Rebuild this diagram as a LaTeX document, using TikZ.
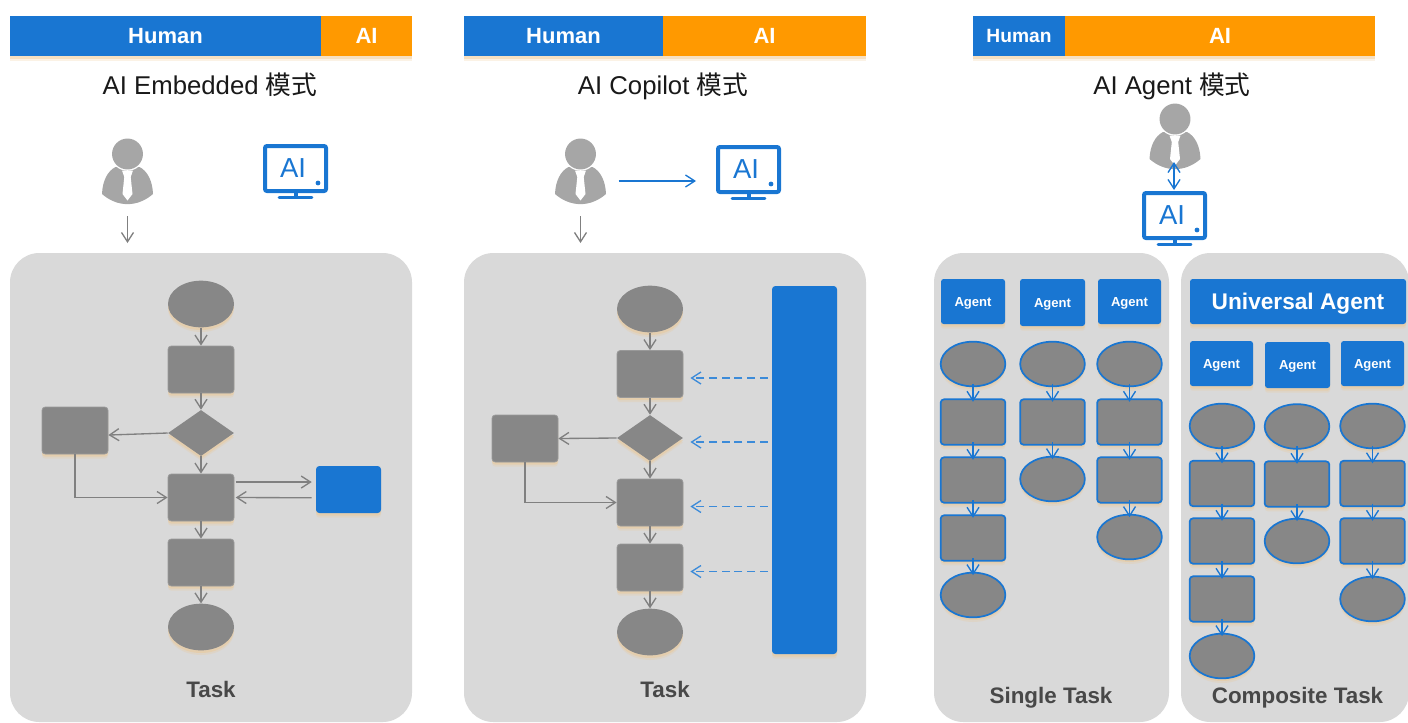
\documentclass[tikz,border=0pt]{standalone}
\usepackage{fontspec}
\setmainfont{Liberation Sans}
\newfontfamily\cjk{Noto Sans CJK SC}
\usetikzlibrary{arrows.meta,shapes.geometric,shadows,calc}
\definecolor{aiblue}{HTML}{1976D2}
\definecolor{aiorange}{HTML}{FF9900}
\definecolor{panelgray}{HTML}{D9D9D9}
\definecolor{flowgray}{HTML}{878787}
\definecolor{linegray}{HTML}{808080}
\definecolor{icongray}{HTML}{A6A6A6}
\definecolor{labelgray}{HTML}{484848}
\definecolor{glow}{HTML}{EFC58A}
\newcommand{\fs}[1]{\fontsize{#1}{#1}\selectfont}
\tikzset{
  x=0.75pt,y=-0.75pt,
  glowshadow/.style={
    drop shadow={shadow xshift=0pt,shadow yshift=-3.5pt,fill=glow,opacity=0.22},
    drop shadow={shadow xshift=0pt,shadow yshift=-2pt,fill=glow,opacity=0.4}},
  barblue/.style={fill=aiblue,text=white,font=\bfseries\fs{16.5},minimum height=30pt,inner sep=0pt,text height=11.9pt,text depth=0pt,glowshadow},
  barorange/.style={barblue,fill=aiorange},
  titletext/.style={font=\fs{19.3},text=black!90,inner sep=0pt,anchor=base},
  panel/.style={fill=panelgray,rounded corners=22pt,inner sep=0pt,minimum height=351.75pt},
  tasklabel/.style={font=\bfseries\fs{16.8},text=labelgray,inner sep=0pt,anchor=base},
  flowrect/.style={rectangle,fill=flowgray,draw=flowgray!85!white,line width=0.6pt,rounded corners=2.5pt,minimum width=49.5pt,minimum height=35.25pt,inner sep=0pt,glowshadow},
  flowell/.style={ellipse,fill=flowgray,minimum width=49.5pt,minimum height=35pt,inner sep=0pt,glowshadow},
  flowdia/.style={diamond,aspect=1.43,fill=flowgray,minimum width=49.5pt,minimum height=34.5pt,inner sep=0pt,glowshadow},
  aibox/.style={rectangle,fill=aiblue,rounded corners=2.5pt,minimum width=48.75pt,minimum height=35.25pt,inner sep=0pt,glowshadow},
  agentbox/.style={rectangle,fill=aiblue,text=white,font=\bfseries\fs{9.8},rounded corners=2pt,minimum width=48pt,minimum height=33.75pt,inner sep=0pt,text height=7pt,text depth=0pt,glowshadow},
  blrect/.style={flowrect,draw=aiblue,line width=1.3pt,minimum width=48.5pt,minimum height=34pt},
  blell/.style={ellipse,fill=flowgray,draw=aiblue,line width=1.3pt,minimum width=48.5pt,minimum height=33.5pt,inner sep=0pt,glowshadow},
  grayarrow/.style={draw=linegray,line width=1pt,-{Straight Barb[length=7pt,width=9pt]}},
  bluearrow/.style={draw=aiblue,line width=1pt,-{Straight Barb[length=7pt,width=9pt]}},
  chainarrow/.style={bluearrow,shorten <=-2.5pt,shorten >=-2.5pt},
  dasharrow/.style={bluearrow,draw=aiblue!85!white,dash pattern=on 6pt off 3.5pt,-{Straight Barb[length=7pt,width=9pt]}},
  personicon/.pic={
    \fill[icongray] (-25.5,40) .. controls (-25,27) and (-20,17) .. (-12,13) -- (12,13)
      .. controls (20,17) and (25,27) .. (25.5,40) .. controls (10,53.5) and (-10,53.5) .. cycle;
    \fill[white] (0,0) circle (12.6pt);
    \fill[icongray] (0,0) circle (11.6pt);
    \fill[white] (-5.5,16.5) -- (5.5,16.5) -- (3.2,23) -- (5,40) -- (0,46.5) -- (-5,40) -- (-3.2,23) -- cycle;
    \coordinate (-foot) at (0,62);
    \coordinate (-tip) at (0,89);
    \coordinate (-right) at (38,27);
    \coordinate (-chest) at (-1,43);
  },
  monitoricon/.pic={
    \draw[aiblue,line width=3pt,rounded corners=1.5pt] (2,2) rectangle (63,47);
    \draw[aiblue,line width=3pt] (32.5,48) -- (32.5,53);
    \draw[aiblue,line width=2.2pt,line cap=round] (16,53.5) -- (49,53.5);
    \fill[aiblue] (55,39) circle (1.8pt);
    \node[text=aiblue,font=\fs{20.6},inner sep=0pt] (-label) at (30,24) {AI};
    \coordinate (-left) at (-20,36);
    \coordinate (-top) at (32,-1);
  },
}
\begin{document}
\begin{tikzpicture}
\useasboundingbox (0,0) rectangle (1408,722);
% panels
\node[panel,minimum width=301.5pt] (panelA) at (211,487.5) {};
\node[panel,minimum width=301.5pt] (panelB) at (665,487.5) {};
\node[panel,minimum width=176.25pt] (panelC) at (1051.5,487.5) {};
\node[panel,minimum width=171pt] (panelD) at (1295,487.5) {};
% bars
\node[barblue,minimum width=233.25pt] (humA) at (165.5,36) {Human};
\node[barorange,minimum width=68.25pt] (aiA) at (366.5,36) {AI};
\node[barblue,minimum width=149.25pt] (humB) at (563.5,36) {Human};
\node[barorange,minimum width=152.25pt] (aiB) at (764.5,36) {AI};
\node[barblue,minimum width=69pt,font=\bfseries\fs{14.4},text height=10.4pt] (humC) at (1019,36) {Human};
\node[barorange,minimum width=232.5pt] (aiC) at (1220,36) {AI};
% titles
\node[titletext] (titleA) at (210,94) {AI Embedded {\cjk 模式}};
\node[titletext] (titleB) at (663,94) {AI Copilot {\cjk 模式}};
\node[titletext] (titleC) at (1172,94) {AI Agent {\cjk 模式}};
% icons
\pic (pA) at (127.5,154) {personicon};
\pic (mA) at (263,144) {monitoricon};
\pic (pB) at (580.5,154) {personicon};
\pic (mB) at (716,145) {monitoricon};
\pic (pC) at (1175,119) {personicon};
\pic (mC) at (1142,191) {monitoricon};
\draw[grayarrow] (pA-foot) -- (pA-tip);
\draw[grayarrow] (pB-foot) -- (pB-tip);
\draw[bluearrow] (pB-right) -- (mB-left);
\draw[bluearrow,{Straight Barb[length=7pt,width=9pt]}-{Straight Barb[length=7pt,width=9pt]}] (pC-chest) -- (mC-top);
% flow A
\node[flowell] (e1) at (201,304) {};
\node[flowrect] (r1) at (201,369.5) {};
\node[flowdia] (d1) at (201,433) {};
\node[flowrect] (l1) at (75,430.5) {};
\node[flowrect] (c1) at (201,497.5) {};
\node[aibox] (b1) at (348.5,489.5) {};
\node[flowrect] (s1) at (201,562.5) {};
\node[flowell] (f1) at (201,627) {};
\draw[grayarrow] (e1) -- (r1);
\draw[grayarrow] (r1) -- (d1);
\draw[grayarrow] (d1) -- (c1);
\draw[grayarrow] (c1) -- (s1);
\draw[grayarrow] (s1) -- (f1);
\draw[grayarrow] (d1.west) -- ([yshift=-3.4pt]l1.east);
\draw[grayarrow] (l1.south) |- (c1.west);
\draw[grayarrow] ([xshift=1pt,yshift=11.6pt]c1.east) -- ([xshift=-3pt,yshift=5.6pt]b1.west);
\draw[grayarrow] ([xshift=-3pt,yshift=-6.2pt]b1.west) -- ([xshift=1pt]c1.east);
\node[tasklabel] (taskA) at (211,697) {Task};
% flow B
\node[flowell] (e2) at (650,309) {};
\node[flowrect] (r2) at (650,374) {};
\node[flowdia] (d2) at (650,438) {};
\node[flowrect] (l2) at (525,438.5) {};
\node[flowrect] (c2) at (650,502.5) {};
\node[flowrect] (s2) at (650,567.5) {};
\node[flowell] (f2) at (650,632) {};
\node[aibox,minimum height=276pt] (bar2) at (804.5,470) {};
\draw[grayarrow] (e2) -- (r2);
\draw[grayarrow] (r2) -- (d2);
\draw[grayarrow] (d2) -- (c2);
\draw[grayarrow] (c2) -- (s2);
\draw[grayarrow] (s2) -- (f2);
\draw[grayarrow] (d2.west) -- (l2.east);
\draw[grayarrow] (l2.south) |- (c2.west);
\foreach \n/\t/\o in {t1/r2/3,t2/d2/3,t3/c2/3,t4/s2/3}{
  \coordinate (\n) at ([xshift=5.25pt,yshift=-\o pt]\t.center -| r2.east);
  \draw[dasharrow] ([xshift=-3pt]bar2.west |- \n) -- (\n);
}
\node[tasklabel] (taskB) at (665,697) {Task};
% agent boxes
\node[agentbox] (ag1) at (973,301.5) {Agent};
\node[agentbox,minimum width=48.75pt,minimum height=35.25pt] (ag2) at (1052.5,302.5) {Agent};
\node[agentbox,minimum width=47.25pt] (ag3) at (1129.5,301.5) {Agent};
\node[agentbox,minimum width=162pt,font=\bfseries\fs{17},text height=12.2pt] (uni) at (1298,301.5) {Universal Agent};
\node[agentbox,minimum width=47.25pt] (ag4) at (1221.5,363.5) {Agent};
\node[agentbox,minimum width=48.75pt,minimum height=34.5pt] (ag5) at (1297.5,365) {Agent};
\node[agentbox,minimum width=47.25pt] (ag6) at (1372.5,363.5) {Agent};
% task chains
\foreach \n/\x/\y in {q11/973/364,q15/973/595,q21/1052.5/364,q23/1052.5/479,q31/1129.5/364,q34/1129.5/537,
  w11/1222/426,w15/1222/656,w21/1297/426.5,w23/1297/541,w31/1372.5/426,w34/1372.5/599}
  \node[blell] (\n) at (\x,\y) {};
\foreach \n/\x/\y in {q12/973/422,q13/973/480,q14/973/538,q22/1052.5/422,q32/1129.5/422,q33/1129.5/480,
  w12/1222/483.5,w13/1222/541,w14/1222/599,w22/1297/484,w32/1372.5/483.5,w33/1372.5/541}
  \node[blrect] (\n) at (\x,\y) {};
\foreach \a/\b in {q11/q12,q12/q13,q13/q14,q14/q15,q21/q22,q22/q23,q31/q32,q32/q33,q33/q34,
  w11/w12,w12/w13,w13/w14,w14/w15,w21/w22,w22/w23,w31/w32,w32/w33,w33/w34}
  \draw[chainarrow] (\a.south) -- (\b.north);
\node[tasklabel] (taskC) at (1051,703) {Single Task};
\node[tasklabel] (taskD) at (1297.5,703) {Composite Task};
\end{tikzpicture}
\end{document}
